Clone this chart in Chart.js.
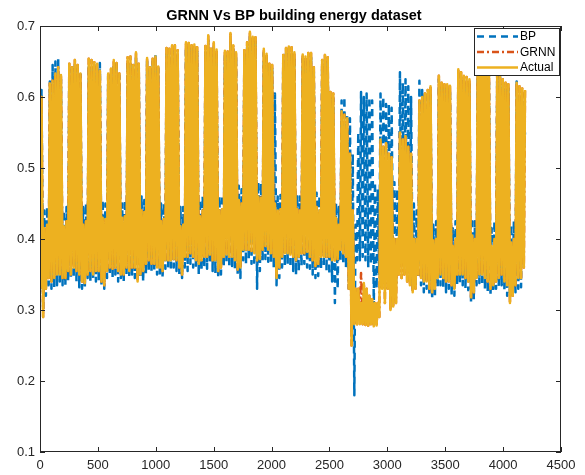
<!DOCTYPE html>
<html>
<head>
<meta charset="utf-8">
<script src="https://cdn.jsdelivr.net/npm/chart.js@4.4.1/dist/chart.umd.min.js"></script>
<style>
  html, body { margin: 0; padding: 0; background: #fff; }
</style>
</head>
<body>
<canvas id="energyChart" width="585" height="475"></canvas>
<script>
// ========== DATA (one value per day, hourly samples 0..4199) ==========
// daily peak / night base of the measured load
const actualPeak = [
    0.600, 0.415, 0.420, 0.619, 0.623, 0.633, 0.642,
    0.631, 0.418, 0.425, 0.647, 0.642, 0.652, 0.645,
    0.633, 0.420, 0.425, 0.654, 0.652, 0.649, 0.647,
    0.637, 0.430, 0.428, 0.633, 0.640, 0.652, 0.648,
    0.633, 0.430, 0.432, 0.656, 0.657, 0.645, 0.663,
    0.647, 0.440, 0.438, 0.655, 0.642, 0.654, 0.657,
    0.643, 0.425, 0.428, 0.669, 0.668, 0.673, 0.673,
    0.666, 0.418, 0.420, 0.677, 0.676, 0.673, 0.674,
    0.670, 0.432, 0.440, 0.672, 0.687, 0.668, 0.677,
    0.667, 0.440, 0.442, 0.665, 0.664, 0.690, 0.673,
    0.663, 0.455, 0.450, 0.666, 0.677, 0.692, 0.685,
    0.684, 0.460, 0.458, 0.668, 0.661, 0.647, 0.645,
    0.450, 0.440, 0.442, 0.659, 0.669, 0.671, 0.670,
    0.663, 0.442, 0.440, 0.660, 0.657, 0.662, 0.662,
    0.642, 0.445, 0.440, 0.652, 0.659, 0.656, 0.607,
    0.605, 0.430, 0.420, 0.580, 0.575, 0.570, 0.520,
    0.440, 0.330, 0.330, 0.310, 0.338, 0.330, 0.320,
    0.315, 0.310, 0.310, 0.540, 0.530, 0.535, 0.520,
    0.515, 0.400, 0.400, 0.550, 0.540, 0.545, 0.530,
    0.520, 0.400, 0.400, 0.595, 0.600, 0.605, 0.610,
    0.615, 0.398, 0.400, 0.630, 0.620, 0.618, 0.618,
    0.616, 0.390, 0.400, 0.639, 0.635, 0.630, 0.628,
    0.625, 0.405, 0.400, 0.665, 0.660, 0.662, 0.655,
    0.650, 0.390, 0.400, 0.632, 0.628, 0.625, 0.620,
    0.618, 0.395, 0.400, 0.620, 0.615, 0.612, 0.610
];
const actualBase = [
    0.330, 0.290, 0.330, 0.345, 0.340, 0.345, 0.350,
    0.350, 0.345, 0.345, 0.355, 0.350, 0.360, 0.355,
    0.350, 0.340, 0.338, 0.350, 0.355, 0.350, 0.355,
    0.355, 0.340, 0.335, 0.355, 0.360, 0.358, 0.360,
    0.355, 0.350, 0.350, 0.360, 0.355, 0.360, 0.360,
    0.340, 0.350, 0.355, 0.365, 0.370, 0.365, 0.365,
    0.360, 0.360, 0.355, 0.370, 0.370, 0.370, 0.372,
    0.370, 0.360, 0.350, 0.375, 0.375, 0.380, 0.375,
    0.370, 0.365, 0.370, 0.375, 0.375, 0.378, 0.370,
    0.370, 0.355, 0.360, 0.375, 0.378, 0.375, 0.375,
    0.370, 0.357, 0.360, 0.385, 0.385, 0.385, 0.383,
    0.380, 0.370, 0.372, 0.385, 0.390, 0.385, 0.380,
    0.375, 0.345, 0.360, 0.375, 0.380, 0.380, 0.378,
    0.375, 0.370, 0.375, 0.380, 0.380, 0.382, 0.375,
    0.370, 0.362, 0.365, 0.375, 0.375, 0.375, 0.375,
    0.370, 0.370, 0.372, 0.385, 0.380, 0.375, 0.330,
    0.250, 0.280, 0.280, 0.280, 0.280, 0.279, 0.278,
    0.280, 0.277, 0.278, 0.290, 0.330, 0.310, 0.330,
    0.300, 0.305, 0.310, 0.350, 0.345, 0.350, 0.340,
    0.335, 0.325, 0.330, 0.350, 0.345, 0.340, 0.340,
    0.330, 0.325, 0.330, 0.345, 0.350, 0.345, 0.340,
    0.340, 0.335, 0.330, 0.350, 0.350, 0.350, 0.345,
    0.340, 0.318, 0.325, 0.345, 0.350, 0.350, 0.345,
    0.340, 0.330, 0.335, 0.340, 0.345, 0.350, 0.340,
    0.335, 0.310, 0.320, 0.335, 0.345, 0.345, 0.360
];

// BP network prediction
const bpPeak = [
    0.610, 0.440, 0.445, 0.622, 0.645, 0.650, 0.654,
    0.625, 0.440, 0.445, 0.640, 0.640, 0.645, 0.640,
    0.632, 0.445, 0.450, 0.645, 0.644, 0.645, 0.640,
    0.648, 0.455, 0.450, 0.630, 0.635, 0.645, 0.650,
    0.630, 0.450, 0.455, 0.650, 0.650, 0.640, 0.655,
    0.640, 0.460, 0.455, 0.650, 0.640, 0.650, 0.660,
    0.640, 0.450, 0.450, 0.660, 0.660, 0.665, 0.665,
    0.660, 0.445, 0.445, 0.670, 0.670, 0.668, 0.668,
    0.665, 0.455, 0.460, 0.665, 0.680, 0.662, 0.670,
    0.660, 0.460, 0.462, 0.658, 0.658, 0.680, 0.668,
    0.658, 0.475, 0.470, 0.660, 0.670, 0.685, 0.680,
    0.678, 0.480, 0.478, 0.662, 0.655, 0.642, 0.640,
    0.605, 0.460, 0.462, 0.652, 0.662, 0.665, 0.664,
    0.656, 0.462, 0.460, 0.654, 0.650, 0.655, 0.656,
    0.636, 0.465, 0.460, 0.645, 0.652, 0.650, 0.600,
    0.598, 0.450, 0.445, 0.595, 0.600, 0.575, 0.570,
    0.520, 0.420, 0.550, 0.607, 0.600, 0.605, 0.600,
    0.595, 0.480, 0.470, 0.605, 0.600, 0.590, 0.590,
    0.585, 0.480, 0.470, 0.635, 0.620, 0.625, 0.615,
    0.600, 0.450, 0.440, 0.623, 0.610, 0.605, 0.600,
    0.605, 0.420, 0.425, 0.625, 0.615, 0.612, 0.612,
    0.610, 0.415, 0.425, 0.632, 0.628, 0.624, 0.622,
    0.618, 0.430, 0.425, 0.658, 0.652, 0.655, 0.648,
    0.643, 0.415, 0.425, 0.630, 0.632, 0.618, 0.614,
    0.612, 0.420, 0.425, 0.622, 0.600, 0.605, 0.550
];
const bpBase = [
    0.330, 0.300, 0.320, 0.335, 0.330, 0.332, 0.335,
    0.340, 0.335, 0.335, 0.340, 0.345, 0.345, 0.340,
    0.332, 0.330, 0.330, 0.345, 0.340, 0.345, 0.340,
    0.340, 0.335, 0.330, 0.345, 0.350, 0.345, 0.350,
    0.340, 0.345, 0.340, 0.350, 0.345, 0.350, 0.345,
    0.345, 0.345, 0.340, 0.350, 0.355, 0.352, 0.355,
    0.350, 0.350, 0.345, 0.358, 0.360, 0.355, 0.360,
    0.355, 0.350, 0.345, 0.360, 0.355, 0.365, 0.360,
    0.358, 0.350, 0.355, 0.360, 0.358, 0.365, 0.355,
    0.352, 0.345, 0.350, 0.360, 0.365, 0.360, 0.362,
    0.358, 0.350, 0.345, 0.370, 0.365, 0.370, 0.365,
    0.362, 0.330, 0.355, 0.370, 0.372, 0.368, 0.365,
    0.360, 0.335, 0.345, 0.360, 0.362, 0.365, 0.360,
    0.355, 0.350, 0.355, 0.362, 0.365, 0.360, 0.358,
    0.350, 0.345, 0.348, 0.358, 0.360, 0.355, 0.350,
    0.340, 0.310, 0.330, 0.370, 0.365, 0.360, 0.330,
    0.270, 0.180, 0.370, 0.370, 0.375, 0.370, 0.360,
    0.365, 0.305, 0.330, 0.350, 0.360, 0.355, 0.350,
    0.345, 0.330, 0.335, 0.370, 0.370, 0.365, 0.360,
    0.355, 0.330, 0.335, 0.345, 0.335, 0.325, 0.330,
    0.320, 0.315, 0.320, 0.330, 0.335, 0.330, 0.325,
    0.330, 0.320, 0.320, 0.335, 0.338, 0.335, 0.330,
    0.328, 0.310, 0.315, 0.335, 0.338, 0.335, 0.330,
    0.325, 0.320, 0.325, 0.330, 0.332, 0.335, 0.328,
    0.320, 0.320, 0.322, 0.325, 0.330, 0.332, 0.520
];

// GRNN follows the measured load almost exactly; day 115 is where it shows
const grnnPeak = actualPeak.slice();
const grnnBase = actualBase.slice();
grnnPeak[115] = 0.352;
grnnBase[115] = 0.303;

const xTicks = [0, 500, 1000, 1500, 2000, 2500, 3000, 3500, 4000, 4500];
const yTicks = [0.1, 0.2, 0.3, 0.4, 0.5, 0.6, 0.7];

const seriesNames = ['BP', 'GRNN', 'Actual'];
const seriesColors = ['#0072BD', '#D95319', '#EDB120'];
const seriesDash = [[7, 5], [7, 3, 2, 3], []];

const TITLE = 'GRNN Vs BP building energy dataset';
const FONT = '"Liberation Sans", Arial, Helvetica, sans-serif';

// ========== HELPERS ==========
// each day -> night base (hour 3) and day peak (hour 13)
function toPoints(base, peak) {
    const pts = [];
    for (let d = 0; d < base.length; d++) {
        pts.push({ x: d * 24 + 3, y: base[d] });
        pts.push({ x: d * 24 + 13, y: peak[d] });
    }
    return pts;
}

function lineDataset(i, points, order) {
    return {
        label: seriesNames[i],
        data: points,
        borderColor: seriesColors[i],
        borderWidth: 2.5,
        borderDash: seriesDash[i],
        borderJoinStyle: 'round',
        pointRadius: 0,
        tension: 0,
        fill: false,
        order: order
    };
}

// ========== FRAME, TITLE, LEGEND (matlab look) ==========
const matlabFrame = {
    id: 'matlabFrame',
    afterDraw(chart) {
        const { ctx, chartArea: a, scales } = chart;
        ctx.save();
        ctx.strokeStyle = '#262626';
        ctx.lineWidth = 1;

        // box
        ctx.strokeRect(a.left + 0.5, a.top + 0.5, a.right - a.left - 1, a.bottom - a.top - 1);

        // inward ticks on all four sides
        ctx.beginPath();
        xTicks.forEach(v => {
            const px = Math.round(scales.x.getPixelForValue(v)) + 0.5;
            ctx.moveTo(px, a.bottom); ctx.lineTo(px, a.bottom - 5);
            ctx.moveTo(px, a.top); ctx.lineTo(px, a.top + 5);
        });
        yTicks.forEach(v => {
            const py = Math.round(scales.y.getPixelForValue(v)) + 0.5;
            ctx.moveTo(a.left, py); ctx.lineTo(a.left + 5, py);
            ctx.moveTo(a.right, py); ctx.lineTo(a.right - 5, py);
        });
        ctx.stroke();

        // title
        ctx.fillStyle = '#000';
        ctx.font = 'bold 14.5px ' + FONT;
        ctx.textAlign = 'center';
        ctx.textBaseline = 'alphabetic';
        ctx.fillText(TITLE, 294, 19.5);

        // legend box
        const lx = 474, ly = 28, lw = 85, lh = 47;
        ctx.fillStyle = '#fff';
        ctx.fillRect(lx, ly, lw, lh);
        ctx.strokeStyle = '#262626';
        ctx.strokeRect(lx + 0.5, ly + 0.5, lw, lh);

        ctx.font = '12px ' + FONT;
        ctx.textAlign = 'left';
        ctx.textBaseline = 'middle';
        seriesNames.forEach((name, i) => {
            const yy = ly + 8.5 + i * 15.5;
            ctx.beginPath();
            ctx.strokeStyle = seriesColors[i];
            ctx.lineWidth = 2.5;
            ctx.setLineDash(seriesDash[i]);
            ctx.moveTo(lx + 3, yy);
            ctx.lineTo(lx + 44, yy);
            ctx.stroke();
            ctx.setLineDash([]);
            ctx.fillStyle = '#000';
            ctx.fillText(name, lx + 46, yy + 0.5);
        });
        ctx.restore();
    }
};

// ========== CHART ==========
const ctx = document.getElementById('energyChart').getContext('2d');
new Chart(ctx, {
    type: 'line',
    data: {
        datasets: [
            lineDataset(0, toPoints(bpBase, bpPeak), 2),
            lineDataset(1, toPoints(grnnBase, grnnPeak), 1),
            lineDataset(2, toPoints(actualBase, actualPeak), 0)
        ]
    },
    options: {
        responsive: false,
        animation: false,
        devicePixelRatio: 1,
        layout: { padding: { top: 26, right: 24, left: 0, bottom: 0 } },
        plugins: {
            legend: { display: false },
            tooltip: { enabled: false },
            title: { display: false }
        },
        scales: {
            x: {
                type: 'linear',
                min: 0,
                max: 4500,
                afterFit: s => { s.height = 23; },
                afterBuildTicks: s => { s.ticks = xTicks.map(v => ({ value: v })); },
                grid: { display: false, drawTicks: false },
                border: { display: false },
                ticks: {
                    padding: 6,
                    maxRotation: 0,
                    color: '#262626',
                    font: { family: FONT, size: 13 },
                    callback: v => String(v)
                }
            },
            y: {
                type: 'linear',
                min: 0.1,
                max: 0.7,
                afterFit: s => { s.width = 40; },
                afterBuildTicks: s => { s.ticks = yTicks.map(v => ({ value: v })); },
                grid: { display: false, drawTicks: false },
                border: { display: false },
                ticks: {
                    padding: 5,
                    color: '#262626',
                    font: { family: FONT, size: 13 },
                    callback: v => Number(v).toFixed(1)
                }
            }
        }
    },
    plugins: [matlabFrame]
});
</script>
</body>
</html>
